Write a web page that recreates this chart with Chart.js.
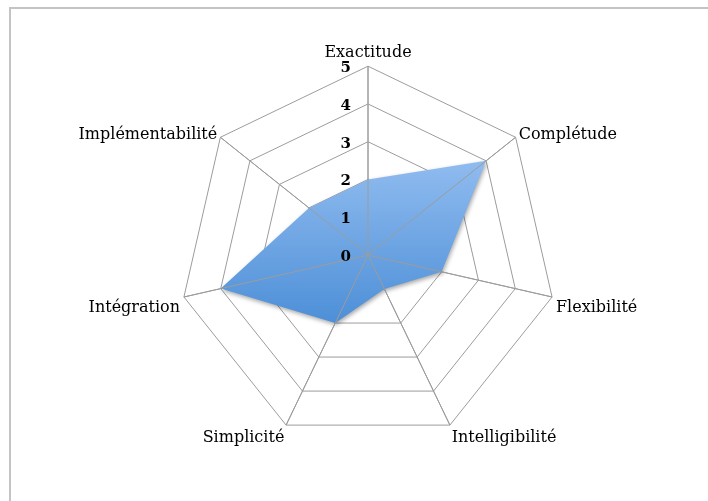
<!DOCTYPE html>
<html>
<head>
<meta charset="utf-8">
<script src="https://cdn.jsdelivr.net/npm/chart.js@4/dist/chart.umd.min.js"></script>
<style>
  html, body { margin: 0; padding: 0; background: #fff; }
  #frame { position: absolute; left: 9px; top: 7px; width: 720px; height: 520px; border: 2px solid #c4c4c4; box-sizing: border-box; }
  #wrap { position: absolute; left: 0; top: 0; width: 708px; height: 501px; }
</style>
</head>
<body>
<div id="frame"></div>
<div id="wrap"><canvas id="radarChart"></canvas></div>
<script>
// Radar: qualité du modèle
const categories = ['Exactitude', 'Complétude', 'Flexibilité', 'Intelligibilité', 'Simplicité', 'Intégration', 'Implémentabilité'];
const scores = [2, 4, 2, 1, 2, 4, 2];
const tickValues = [0, 1, 2, 3, 4, 5];

const radarExtras = {
  id: 'radarExtras',
  afterLayout(chart) {
    // upper side labels sit level with their spoke tip
    const items = chart.scales.r._pointLabelItems || [];
    [1, 6].forEach(i => {
      if (items[i]) { items[i].y += 10; items[i].top += 10; items[i].bottom += 10; }
    });
  },
  // soft drop shadow under the filled area (filler draws inside this window)
  beforeDatasetsDraw(chart) {
    const ctx = chart.ctx;
    ctx.save();
    ctx.shadowColor = 'rgba(0,0,0,0.35)';
    ctx.shadowBlur = 4;
    ctx.shadowOffsetX = 1;
    ctx.shadowOffsetY = 2;
  },
  afterDatasetsDraw(chart) {
    const ctx = chart.ctx;
    ctx.restore();
    // spokes show through the fill, rings do not
    const s = chart.scales.r;
    ctx.save();
    ctx.strokeStyle = '#9c9c9c';
    ctx.lineWidth = 1;
    categories.forEach((c, i) => {
      const p = s.getPointPosition(i, s.drawingArea);
      ctx.beginPath();
      ctx.moveTo(s.xCenter, s.yCenter);
      ctx.lineTo(p.x, p.y);
      ctx.stroke();
    });
    ctx.restore();
  },
  // tick numbers sit left of the vertical axis, not centered on it
  afterDraw(chart) {
    const s = chart.scales.r;
    const ctx = chart.ctx;
    ctx.save();
    ctx.font = 'bold 15px "DejaVu Serif"';
    ctx.fillStyle = '#000';
    ctx.textAlign = 'right';
    ctx.textBaseline = 'middle';
    tickValues.forEach(v => {
      const y = s.yCenter - s.getDistanceFromCenterForValue(v);
      ctx.fillText(String(v), s.xCenter - 17, y + 2);
    });
    ctx.restore();
  }
};

function fillGradient(context) {
  const chart = context.chart;
  const s = chart.scales.r;
  if (!s || !chart.chartArea) return '#7aaee8';
  const top = s.yCenter - s.getDistanceFromCenterForValue(4);
  const bottom = s.yCenter + s.getDistanceFromCenterForValue(2);
  const g = chart.ctx.createLinearGradient(0, top, 0, bottom);
  g.addColorStop(0, '#a7cbf8');
  g.addColorStop(1, '#4a8dd6');
  return g;
}

new Chart(document.getElementById('radarChart'), {
  type: 'radar',
  data: {
    labels: categories,
    datasets: [{
      data: scores,
      backgroundColor: fillGradient,
      borderWidth: 0,
      pointRadius: 0,
      fill: true,
    }],
  },
  options: {
    responsive: true,
    maintainAspectRatio: false,
    animation: false,
    layout: { padding: { left: 64, right: 44, top: 33, bottom: 44 } },
    plugins: { legend: { display: false }, tooltip: { enabled: false } },
    scales: {
      r: {
        min: 0,
        max: 5,
        ticks: { stepSize: 1, display: false },
        grid: { color: '#9c9c9c', lineWidth: 1 },
        angleLines: { color: '#9c9c9c', lineWidth: 1 },
        pointLabels: { font: { family: 'DejaVu Serif', size: 16 }, color: '#000', padding: 4 },
      },
    },
  },
  plugins: [radarExtras],
});
</script>
</body>
</html>
